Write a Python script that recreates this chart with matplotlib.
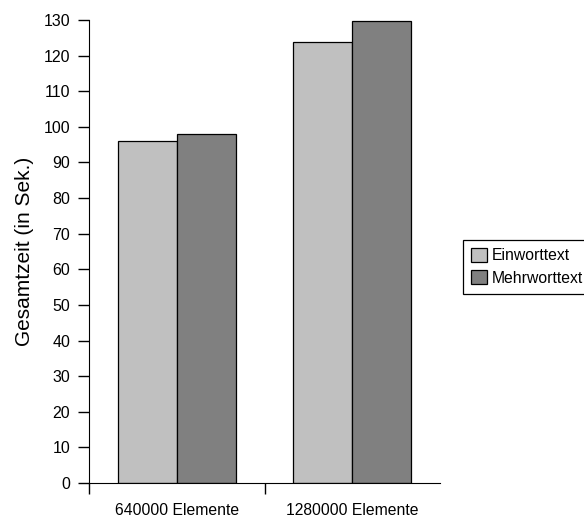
import matplotlib.pyplot as plt
import numpy as np

plt.rcParams['font.family'] = ['Liberation Sans', 'DejaVu Sans']

# Daten
kategorien = ['640000 Elemente', '1280000 Elemente']
einwort = [96, 123.7]
mehrwort = [98, 129.6]
serien = ['Einworttext', 'Mehrworttext']
farben = ['#c0c0c0', '#808080']

fig = plt.figure(figsize=(5.84, 5.17), dpi=100)
ax = fig.add_axes([89 / 584, 1 - 483 / 517, (440 - 89) / 584, (483 - 20) / 517])

x = np.arange(len(kategorien)) + 0.5
b = 0.336
ax.bar(x - b / 2, einwort, b, color=farben[0], edgecolor='black', linewidth=0.9, label=serien[0])
ax.bar(x + b / 2, mehrwort, b, color=farben[1], edgecolor='black', linewidth=0.9, label=serien[1])

ax.set_xlim(0, 2)
ax.set_ylim(0, 130)
ax.set_yticks(np.arange(0, 131, 10))
ax.set_xticks([0, 1])
ax.set_xticklabels([])
ax.set_xticks(x, minor=True)
ax.set_xticklabels(kategorien, minor=True)
ax.tick_params(axis='x', which='minor', length=0, pad=14.5, labelsize=11.3)
ax.tick_params(axis='x', which='major', length=8, width=1)
ax.tick_params(axis='y', length=8, width=1, labelsize=11.5, pad=5.5)

ax.spines['top'].set_visible(False)
ax.spines['right'].set_visible(False)

ax.set_ylabel('Gesamtzeit (in Sek.)', fontsize=15, labelpad=7)

leg = fig.legend(loc='upper left', bbox_to_anchor=(463 / 584, 1 - 240 / 517),
                 fancybox=False, edgecolor='black', framealpha=1, fontsize=11.3,
                 handlelength=1.0, handleheight=1.0, handletextpad=0.35,
                 borderpad=0.5, labelspacing=0.45, borderaxespad=0)
leg.get_frame().set_linewidth(0.9)

fig.savefig('out.png', dpi=100)
